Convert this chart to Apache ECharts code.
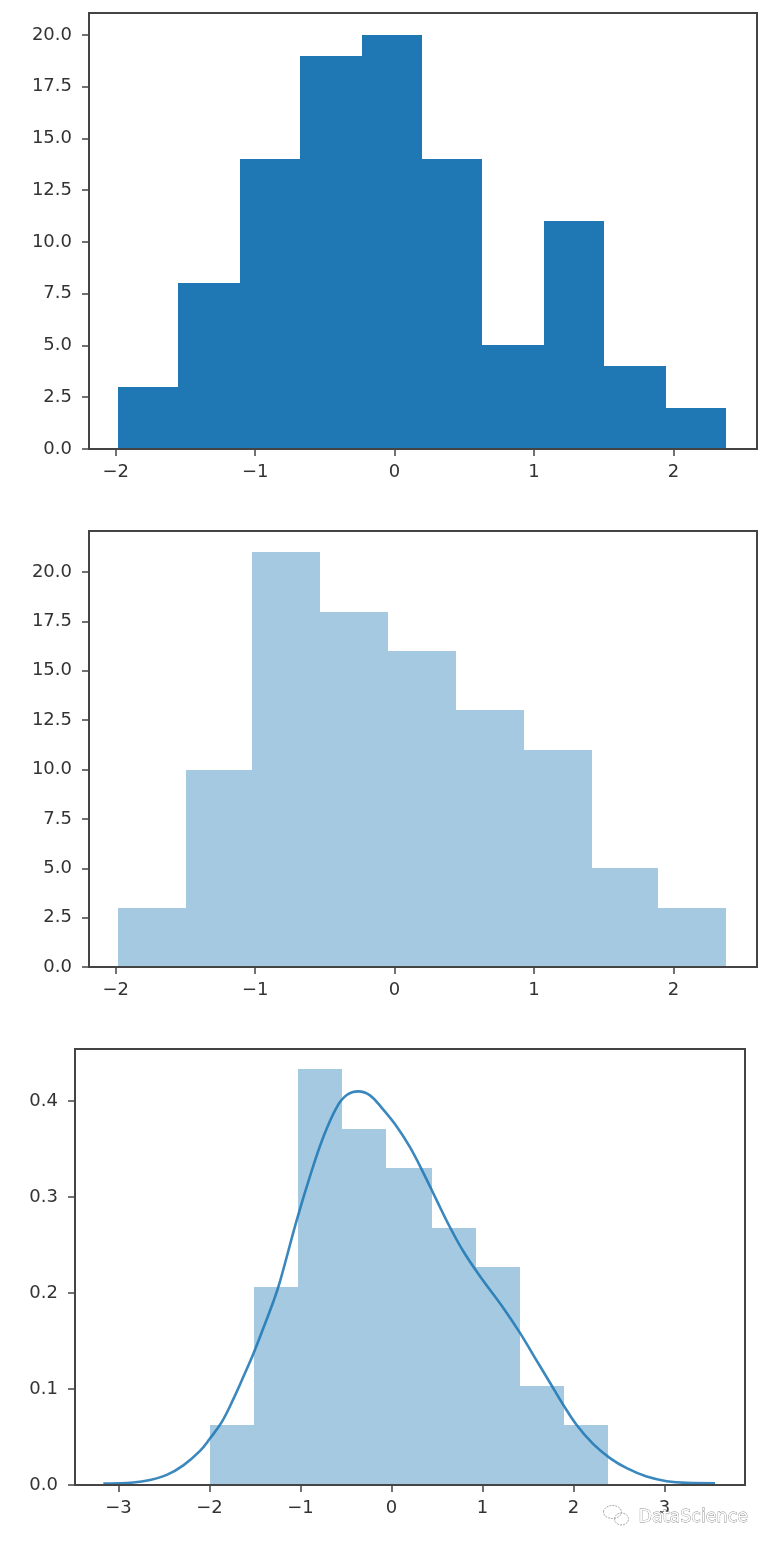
<!DOCTYPE html>
<html>
<head>
<meta charset="utf-8">
<style>
  html, body { margin: 0; padding: 0; background: #fff; }
  #chart { width: 773px; height: 1548px; }
</style>
</head>
<body>
<div id="chart"></div>
<script src="https://cdn.jsdelivr.net/npm/echarts@6/dist/echarts.min.js"></script>
<script>
  // histogram 1 (10 bins)
  const edgesA = [-1.982, -1.554, -1.109, -0.679, -0.234, 0.196, 0.627, 1.072, 1.502, 1.947, 2.378]
  const countsA = [3, 8, 14, 19, 20, 14, 5, 11, 4, 2]

  // histogram 2 (9 bins)
  const edgesB = [-1.984, -1.497, -1.023, -0.535, -0.047, 0.441, 0.929, 1.416, 1.89, 2.378]
  const countsB = [3, 10, 21, 18, 16, 13, 11, 5, 3]

  // density histogram + kde
  const edgesC = [-1.995, -1.51, -1.03, -0.545, -0.06, 0.445, 0.929, 1.412, 1.896, 2.379]
  const densityC = [0.062, 0.206, 0.433, 0.371, 0.33, 0.268, 0.227, 0.103, 0.062]
  const kdeX = [-3.167, -2.837, -2.654, -2.47, -2.288, -2.104, -1.995, -1.866, -1.738, -1.629, -1.519, -1.409, -1.299, -1.225, -1.042, -0.896, -0.749, -0.602, -0.492, -0.365, -0.236, -0.09, 0.057, 0.203, 0.349, 0.497, 0.643, 0.789, 0.973, 1.229, 1.412, 1.577, 1.742, 1.888, 2.035, 2.218, 2.401, 2.585, 2.804, 3.024, 3.244, 3.555]
  const kdeY = [0.0015, 0.0026, 0.0052, 0.0105, 0.0205, 0.0355, 0.0485, 0.0655, 0.0895, 0.1125, 0.1365, 0.1632, 0.1909, 0.2122, 0.2757, 0.3215, 0.3625, 0.3935, 0.4062, 0.4101, 0.4059, 0.391, 0.3735, 0.352, 0.3255, 0.2965, 0.2685, 0.2435, 0.2175, 0.1845, 0.1585, 0.1325, 0.1065, 0.0835, 0.0625, 0.0425, 0.028, 0.0175, 0.0088, 0.004, 0.0022, 0.0018]

  // tick labels
  const xTicksAB = [-2, -1, 0, 1, 2]
  const xTicksC = [-3, -2, -1, 0, 1, 2, 3]
  const yTicksAB = [0, 2.5, 5, 7.5, 10, 12.5, 15, 17.5, 20]
  const yTicksC = [0, 0.1, 0.2, 0.3, 0.4]

  const spine = '#444'
  const labelColor = '#333'
  const fontFamily = '"DejaVu Sans", sans-serif'

  const toBins = (edges, values) => values.map((v, i) => [edges[i], edges[i + 1], v])

  const renderBin = color => (params, api) => {
    const p0 = api.coord([api.value(0), api.value(2)])
    const p1 = api.coord([api.value(1), 0])
    // snap to whole pixels so neighbouring bins leave no seam
    const x0 = Math.round(p0[0])
    const x1 = Math.round(p1[0])
    const y0 = Math.round(p0[1])
    return {
      type: 'rect',
      shape: { x: x0, y: y0, width: x1 - x0, height: p1[1] - y0 },
      style: { fill: color },
    }
  }

  const xAxisOf = (gridIndex, min, max, ticks) => ({
    type: 'value',
    gridIndex,
    min,
    max,
    z: 5,
    splitLine: { show: false },
    axisLine: { show: true, onZero: false, lineStyle: { color: spine, width: 2 } },
    axisTick: { show: true, length: 7, customValues: ticks, lineStyle: { color: spine, width: 1.5 } },
    axisLabel: {
      customValues: ticks,
      color: labelColor,
      fontFamily,
      fontSize: 18,
      margin: 14,
      formatter: v => String(v).replace('-', '\u2212'),
    },
  })

  const yAxisOf = (gridIndex, max, ticks, digits) => ({
    type: 'value',
    gridIndex,
    min: 0,
    max,
    z: 5,
    splitLine: { show: false },
    axisLine: { show: true, onZero: false, lineStyle: { color: spine, width: 2 } },
    axisTick: { show: true, length: 7, customValues: ticks, lineStyle: { color: spine, width: 1.5 } },
    axisLabel: {
      customValues: ticks,
      color: labelColor,
      fontFamily,
      fontSize: 18,
      margin: 17,
      padding: [4, 0, 0, 0],
      formatter: v => v.toFixed(digits),
    },
  })

  const gridOf = (left, top) => ({
    left,
    top,
    width: left === 89 ? 668 : 670,
    height: 436,
    show: true,
    backgroundColor: '#fff',
    borderColor: spine,
    borderWidth: 2,
  })

  const myChart = echarts.init(document.getElementById('chart'))

  const option = {
    animation: false,
    backgroundColor: '#fff',
    grid: [gridOf(89, 13), gridOf(89, 531), gridOf(75, 1049)],
    xAxis: [
      xAxisOf(0, -2.192, 2.6, xTicksAB),
      xAxisOf(1, -2.192, 2.6, xTicksAB),
      xAxisOf(2, -3.478, 3.885, xTicksC),
    ],
    yAxis: [
      yAxisOf(0, 21.06, yTicksAB, 1),
      yAxisOf(1, 22.08, yTicksAB, 1),
      yAxisOf(2, 0.4542, yTicksC, 1),
    ],
    series: [
      {
        type: 'custom',
        xAxisIndex: 0,
        yAxisIndex: 0,
        z: 2,
        renderItem: renderBin('#1f77b4'),
        encode: { x: [0, 1], y: 2 },
        data: toBins(edgesA, countsA),
      },
      {
        type: 'custom',
        xAxisIndex: 1,
        yAxisIndex: 1,
        z: 2,
        renderItem: renderBin('#a5c9e1'),
        encode: { x: [0, 1], y: 2 },
        data: toBins(edgesB, countsB),
      },
      {
        type: 'custom',
        xAxisIndex: 2,
        yAxisIndex: 2,
        z: 2,
        renderItem: renderBin('#a5c9e1'),
        encode: { x: [0, 1], y: 2 },
        data: toBins(edgesC, densityC),
      },
      {
        type: 'line',
        xAxisIndex: 2,
        yAxisIndex: 2,
        z: 3,
        smooth: 0.4,
        symbol: 'none',
        lineStyle: { color: 'rgba(31, 119, 180, 0.88)', width: 2.6 },
        data: kdeX.map((x, i) => [x, kdeY[i]]),
      },
    ],
    // watermark over the last panel
    graphic: [
      {
        type: 'group',
        left: 603,
        top: 1505,
        z: 10,
        children: [
          { type: 'ellipse', shape: { cx: 9, cy: 7, rx: 9, ry: 6.5 }, style: { fill: 'transparent', stroke: '#aaa', lineWidth: 1, lineDash: [2, 1] } },
          { type: 'ellipse', shape: { cx: 18, cy: 14, rx: 7, ry: 6 }, style: { fill: 'transparent', stroke: '#aaa', lineWidth: 1, lineDash: [2, 1] } },
        ],
      },
      {
        type: 'text',
        left: 638,
        top: 1508,
        z: 10,
        style: {
          text: 'DataScience',
          fill: '#fff',
          stroke: '#888',
          lineWidth: 0.8,
          font: '17.5px "DejaVu Sans", sans-serif',
        },
      },
    ],
  }

  option && myChart.setOption(option)
</script>
</body>
</html>
